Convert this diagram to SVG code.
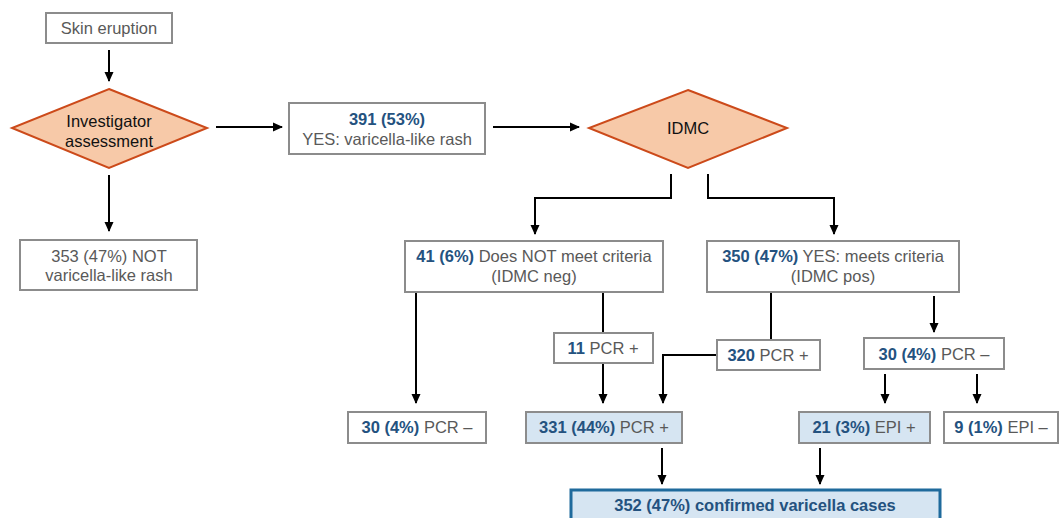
<svg xmlns="http://www.w3.org/2000/svg" width="1060" height="518" viewBox="0 0 1060 518">
<defs>
<marker id="ah" markerWidth="10" markerHeight="10" refX="9" refY="5" orient="auto" markerUnits="userSpaceOnUse">
<path d="M0,0.5 L10,5 L0,9.5 Z" fill="#000"/>
</marker>
<style>
text{font-family:"Liberation Sans",Arial,sans-serif;font-size:16.5px;fill:#595959;text-anchor:middle}
.b{font-weight:bold;fill:#24527f}
.k{fill:#111}
.box{fill:#fff;stroke:#8c8c8c;stroke-width:2}
.hl{fill:#d6e5f2;stroke:#8c8c8c;stroke-width:2}
.fin{fill:#d6e5f2;stroke:#1f6a9c;stroke-width:3}
.dia{fill:#f7c9a8;stroke:#cc4a1a;stroke-width:2}
.c{fill:none;stroke:#000;stroke-width:2}
.a{fill:none;stroke:#000;stroke-width:2;marker-end:url(#ah)}
</style>
</defs>
<rect width="1060" height="518" fill="#fff"/>
<g id="connectors">
<line class="a" x1="109" y1="50" x2="109" y2="81"/>
<line class="a" x1="109" y1="175" x2="109" y2="231"/>
<line class="a" x1="216" y1="127" x2="282" y2="127"/>
<line class="a" x1="493" y1="127" x2="579" y2="127"/>
<polyline class="a" points="671,174 671,198 535,198 535,234"/>
<polyline class="a" points="708,174 708,198 834,198 834,234"/>
<line class="a" x1="416" y1="292" x2="416" y2="403"/>
<line class="c" x1="603" y1="292" x2="603" y2="333"/>
<line class="a" x1="603" y1="363" x2="603" y2="403"/>
<line class="c" x1="771" y1="292" x2="771" y2="340"/>
<polyline class="a" points="717,355 663,355 663,403"/>
<line class="a" x1="934" y1="296" x2="934" y2="332"/>
<line class="a" x1="885" y1="374" x2="885" y2="403"/>
<line class="a" x1="977" y1="374" x2="977" y2="403"/>
<line class="a" x1="662" y1="448" x2="662" y2="484"/>
<line class="a" x1="820" y1="448" x2="820" y2="484"/>
</g>
<g id="skin"><rect class="box" x="46" y="13" width="126" height="30"/><text x="109" y="34">Skin eruption</text></g>
<g id="investigator"><polygon class="dia" points="109,89 207,128 109,168 12,128"/><text class="k" x="109" y="127">Investigator</text><text class="k" x="109" y="147">assessment</text></g>
<g id="not"><rect class="box" x="20" y="240" width="177" height="50"/><text x="109" y="262">353 (47%) NOT</text><text x="109" y="281">varicella-like rash</text></g>
<g id="yes391"><rect class="box" x="289" y="103" width="196" height="51"/><text class="b" x="387" y="125">391 (53%)</text><text x="387" y="145">YES: varicella-like rash</text></g>
<g id="idmc"><polygon class="dia" points="688,90 787,128 688,168 589,128"/><text class="k" x="688" y="134">IDMC</text></g>
<g id="idmcneg"><rect class="box" x="405" y="241" width="258" height="51"/><text x="534" y="262"><tspan class="b">41 (6%)</tspan> Does NOT meet criteria</text><text x="534" y="282">(IDMC neg)</text></g>
<g id="idmcpos"><rect class="box" x="707" y="241" width="252" height="51"/><text x="833" y="262"><tspan class="b">350 (47%)</tspan> YES: meets criteria</text><text x="833" y="282">(IDMC pos)</text></g>
<g id="pcr11"><rect class="box" x="554" y="333" width="99" height="30"/><text x="603" y="354"><tspan class="b">11</tspan> PCR +</text></g>
<g id="pcr320"><rect class="box" x="717" y="340" width="103" height="30"/><text x="768" y="361"><tspan class="b">320</tspan> PCR +</text></g>
<g id="pcrneg30r"><rect class="box" x="864" y="338" width="140" height="31"/><text x="934" y="360"><tspan class="b">30 (4%)</tspan> PCR –</text></g>
<g id="pcrneg30l"><rect class="box" x="348" y="412" width="138" height="31"/><text x="417" y="433"><tspan class="b">30 (4%)</tspan> PCR –</text></g>
<g id="pcr331"><rect class="hl" x="526" y="412" width="156" height="31"/><text x="604" y="433"><tspan class="b">331 (44%)</tspan> PCR +</text></g>
<g id="epi21"><rect class="hl" x="799" y="412" width="131" height="31"/><text x="864" y="433"><tspan class="b">21 (3%)</tspan> EPI +</text></g>
<g id="epi9"><rect class="box" x="944" y="412" width="114" height="31"/><text x="1001" y="433"><tspan class="b">9 (1%)</tspan> EPI –</text></g>
<g id="confirmed"><rect class="fin" x="571" y="490" width="369" height="40"/><text class="b" x="755" y="511">352 (47%) confirmed varicella cases</text></g>
</svg>
